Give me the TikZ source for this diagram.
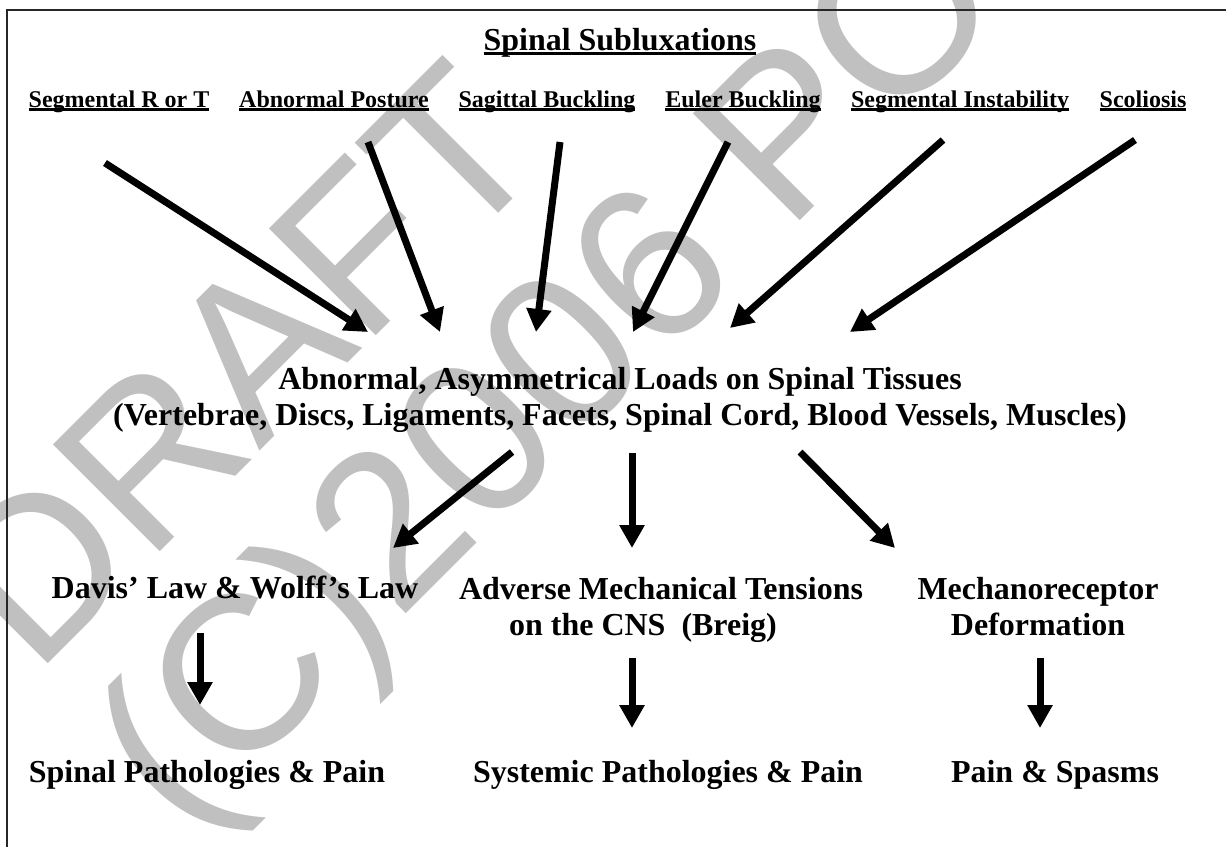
\documentclass[tikz,border=0pt]{standalone}
\usepackage{fontspec}
\setmainfont{Liberation Serif}
\newfontfamily\wmfont{Liberation Sans}
\usetikzlibrary{arrows.meta}
\definecolor{wmgray}{RGB}{192,192,192}
\newcommand{\ulword}[1]{\setbox0\hbox{#1}\rlap{\rule[-0.16em]{\wd0}{0.1em}}\box0}
\tikzset{
x=0.02cm, y=-0.02cm, % one unit is one pixel of the sketch
big/.style={font=\bfseries\fontsize{18.2pt}{20pt}\selectfont, anchor=base, align=center, inner sep=0pt},
small/.style={font=\bfseries\fontsize{13.66pt}{16pt}\selectfont, anchor=base, inner sep=0pt},
wmark/.style={font=\wmfont\fontsize{125pt}{125pt}\selectfont, text=wmgray, rotate=45, inner sep=0pt, anchor=west},
fat/.style={-{Triangle[length=0.46cm,width=0.48cm]}, line width=0.14cm},
}

\begin{document}
\begin{tikzpicture}
    \useasboundingbox (0,0) rectangle (1226,846);
    \clip (0,0) rectangle (1226,846);
    % watermark behind everything
    \node[wmark] at (-18,623) (wm1) {DRAFT};
    \node[wmark] at (143,797) (wm2) {(C)2006 PO};
    \draw[line width=0.05cm, black!85] (7,870) -- (7,10) -- (1250,10);
    \node[big] at (620,50) (title) {\ulword{Spinal Subluxations}};
    \node[small] at (119,107) (s1) {\ulword{Segmental R or T}};
    \node[small] at (334,107) (s2) {\ulword{Abnormal Posture}};
    \node[small] at (547,107) (s3) {\ulword{Sagittal Buckling}};
    \node[small] at (743,107) (s4) {\ulword{Euler Buckling}};
    \node[small] at (960,107) (s5) {\ulword{Segmental Instability}};
    \node[small] at (1143,107) (s6) {\ulword{Scoliosis}};
    % base of a two line node is its last line
    \node[big] at (620,425) (loads) {Abnormal, Asymmetrical Loads on Spinal Tissues\\(Vertebrae, Discs, Ligaments, Facets, Spinal Cord, Blood Vessels, Muscles)};
    \node[big] at (235,598) (davis) {Davis' Law \& Wolff's Law};
    \node[big] at (661,635) (amt) {Adverse Mechanical Tensions\\on the CNS~~(Breig)\hspace*{0.72cm}};
    \node[big] at (1038,635) (mech) {Mechanoreceptor\\Deformation};
    \node[big] at (207,782) (spp) {Spinal Pathologies \& Pain};
    \node[big] at (668,782) (syp) {Systemic Pathologies \& Pain};
    \node[big] at (1055,782) (pns) {Pain \& Spasms};
    % arrow ends
    \coordinate (s1out) at (105,163);
    \coordinate (s2out) at (368,142);
    \coordinate (s3out) at (560,142);
    \coordinate (s4out) at (728,142);
    \coordinate (s5out) at (943,140);
    \coordinate (s6out) at (1135,140);
    \coordinate (in1) at (368,332);
    \coordinate (in2) at (440,332);
    \coordinate (in3) at (536,332);
    \coordinate (in4) at (633,332);
    \coordinate (in5) at (730,328);
    \coordinate (in6) at (850,332);
    \coordinate (out1) at (512,452);
    \coordinate (out2) at (632,453);
    \coordinate (out3) at (800,452);
    \coordinate (davisin) at (393,548);
    \coordinate (amtin) at (632,548);
    \coordinate (mechin) at (895,548);
    \coordinate (davisout) at (200,633);
    \coordinate (amtout) at (632,658);
    \coordinate (mechout) at (1040,658);
    \coordinate (sppin) at (200,705);
    \coordinate (sypin) at (632,728);
    \coordinate (pnsin) at (1040,728);
    \draw
    (s1out) edge[fat] (in1)
    (s2out) edge[fat] (in2)
    (s3out) edge[fat] (in3)
    (s4out) edge[fat] (in4)
    (s5out) edge[fat] (in5)
    (s6out) edge[fat] (in6)
    (out1) edge[fat] (davisin)
    (out2) edge[fat] (amtin)
    (out3) edge[fat] (mechin)
    (davisout) edge[fat] (sppin)
    (amtout) edge[fat] (sypin)
    (mechout) edge[fat] (pnsin)
    ;
\end{tikzpicture}
\end{document}
